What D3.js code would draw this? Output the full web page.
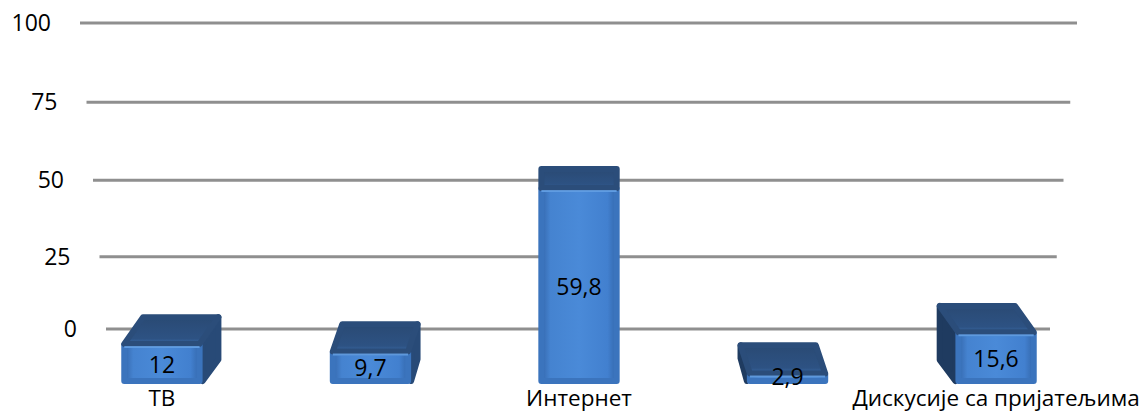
<!DOCTYPE html>
<html><head><meta charset="utf-8">
<script src="https://cdn.jsdelivr.net/npm/d3@7"></script>
<style>body{margin:0;background:#fff}svg{display:block}text{font-family:"Open Sans",sans-serif;fill:#000}</style>
</head><body>
<svg id="c" width="1148" height="412"></svg>
<script>
const categories = [0, 1, 2, 3, 4];
const categoryLabels = ["ТВ", "", "Интернет", "", "Дискусије са пријатељима"];
const values = [12, 9.7, 59.8, 2.9, 15.6];
const valueLabels = ["12", "9,7", "59,8", "2,9", "15,6"];
const yTicks = [0, 25, 50, 75, 100];

const svg = d3.select("#c");
const defs = svg.append("defs");

// perspective grid (back wall)
const gy = d3.scalePow().exponent(1.04).domain([0, 100]).range([329, 23]);
const gLeft = d3.scaleLinear().domain([0, 100]).range([106, 80]);
const gRight = d3.scaleLinear().domain([0, 100]).range([1050, 1077]);

// bars (front)
const x = d3.scaleBand().domain(categories).range([17, 1141]).paddingInner(0.61).paddingOuter(0.5);
const y = d3.scaleLinear().domain([0, 100]).range([384, 58]);
const vpX = 580;

const fg = defs.append("linearGradient").attr("id", "front").attr("x1", 0).attr("x2", 1).attr("y1", 0).attr("y2", 0);
fg.append("stop").attr("offset", 0).attr("stop-color", "#3568ad");
fg.append("stop").attr("offset", 0.12).attr("stop-color", "#4583d0");
fg.append("stop").attr("offset", 0.5).attr("stop-color", "#4a8ad8");
fg.append("stop").attr("offset", 0.88).attr("stop-color", "#4280cf");
fg.append("stop").attr("offset", 1).attr("stop-color", "#3468ac");

const tg = defs.append("linearGradient").attr("id", "top").attr("x1", 0).attr("x2", 0).attr("y1", 0).attr("y2", 1);
tg.append("stop").attr("offset", 0).attr("stop-color", "#2a4a74");
tg.append("stop").attr("offset", 0.8).attr("stop-color", "#2d5283");
tg.append("stop").attr("offset", 1).attr("stop-color", "#3a6aa6");

svg.append("g").selectAll("line").data(yTicks).join("line")
  .attr("x1", d => gLeft(d)).attr("x2", d => gRight(d))
  .attr("y1", d => gy(d)).attr("y2", d => gy(d))
  .attr("stroke", "#8f8f8f").attr("stroke-width", 3);

svg.append("g").selectAll("text").data(yTicks).join("text")
  .attr("x", d => gLeft(d) - 29).attr("y", d => gy(d)).attr("dy", "0.36em")
  .attr("text-anchor", "end").attr("font-size", 23).text(d => d);

const bars = svg.append("g").selectAll("g").data(categories).join("g");
bars.each(function (c, i) {
  const g = d3.select(this);
  const x0 = x(c), x1 = x(c) + x.bandwidth();
  const cx = (x0 + x1) / 2;
  const yb = y(0), yt = y(values[i]);
  const sh = (vpX - cx) * 0.045;
  const dp = 0.05 * (yt + 270);
  const r = 3;
  // side face
  if (sh > 1) {
    g.append("path").attr("d", `M${x1},${yt}L${x1 + sh - r},${yt - dp + r}L${x1 + sh - r},${yb - dp * 0.8}L${x1},${yb - r}Z`)
      .attr("fill", "#284a77").attr("stroke", "#284a77").attr("stroke-width", 6).attr("stroke-linejoin", "round");
  } else if (sh < -1) {
    g.append("path").attr("d", `M${x0},${yt}L${x0 + sh + r},${yt - dp + r}L${x0 + sh + r},${yb - dp * 0.8}L${x0},${yb - r}Z`)
      .attr("fill", "#1f3b60").attr("stroke", "#1f3b60").attr("stroke-width", 6).attr("stroke-linejoin", "round");
  }
  // front face
  g.append("path").attr("d", `M${x0 + r},${yt}L${x1 - r},${yt}L${x1 - r},${yb - r}L${x0 + r},${yb - r}Z`)
    .attr("fill", "url(#front)").attr("stroke", "#3b74bd").attr("stroke-width", 6).attr("stroke-linejoin", "round");
  // top face
  g.append("path").attr("d", `M${x0 + r},${yt - 1}L${x1 - r},${yt - 1}L${x1 + sh - r},${yt - dp + r}L${x0 + sh + r},${yt - dp + r}Z`)
    .attr("fill", "url(#top)").attr("stroke", "#2b4d7a").attr("stroke-width", 6).attr("stroke-linejoin", "round");
  // highlight edge
  g.append("line").attr("x1", x0 + 3).attr("x2", x1 - 3).attr("y1", yt + 2).attr("y2", yt + 2)
    .attr("stroke", "#69a6ec").attr("stroke-width", 2).attr("opacity", 0.8);
  g.append("text").attr("x", cx).attr("y", Math.min((yt + yb) / 2, 377)).attr("dy", "0.36em")
    .attr("text-anchor", "middle").attr("font-size", 23).text(valueLabels[i]);
});

svg.append("g").selectAll("text").data(categories).join("text")
  .attr("x", c => x(c) + x.bandwidth() / 2).attr("y", 406)
  .attr("text-anchor", "middle").attr("font-size", 22.5).text((c, i) => categoryLabels[i]);
</script>
</body></html>
